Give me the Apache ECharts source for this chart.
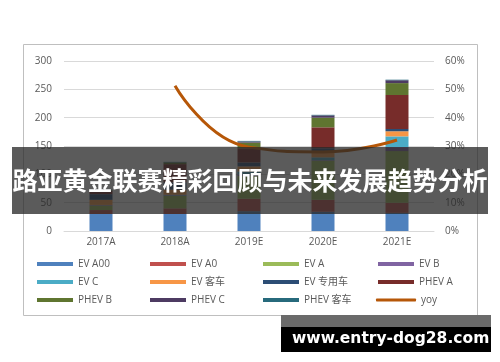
<!DOCTYPE html>
<html><head><meta charset="utf-8">
<script src="https://cdn.jsdelivr.net/npm/echarts@6/dist/echarts.min.js"></script>
<style>html,body{margin:0;padding:0;background:#fff}#c{width:500px;height:362px}</style>
</head><body><div id="c"></div>
<script>
var categories = ['2017A','2018A','2019E','2020E','2021E'];
var evA00   = [30, 30, 35, 34, 32];
var evA0    = [7, 10, 22, 21, 18];
var evA     = [8, 22, 40, 69, 91];
var evB     = [1, 1, 3, 1, 7];
var evC     = [0, 1, 5, 5, 19];
var evBus   = [9, 9, 9, 9, 9];
var evSpec  = [10, 13, 7, 7, 4];
var phevA   = [6, 32, 25, 37, 60];
var phevB   = [1, 3, 10, 17, 21];
var phevC   = [0, 0, 2, 4, 5];
var phevBus = [1, 1, 1, 1, 1];
var yoy     = [null, 0.513, 0.296, 0.279, 0.321];
var leftTicks = [0, 50, 100, 150, 200, 250, 300];
var rightTicks = ['0%','10%','20%','30%','40%','50%','60%'];

var names = ['EV A00','EV A0','EV A','EV B','EV C','EV 客车','EV 专用车','PHEV A','PHEV B','PHEV C','PHEV 客车','yoy'];
var colors = ['#4F81BD','#C0504D','#9BBB59','#8064A2','#4BACC6','#F79646','#2C4D75','#772C2A','#5F7530','#4D3B62','#276A7C','#B65708'];
var barData = [evA00, evA0, evA, evB, evC, evBus, evSpec, phevA, phevB, phevC, phevBus];

var series = barData.map(function(d, i){
  return {name: names[i], type: 'bar', stack: 'total', barWidth: 23, data: d,
    itemStyle: {color: colors[i]}, z: 2};
});
series.push({name: 'yoy', type: 'line', yAxisIndex: 1, data: yoy, smooth: true,
  symbol: 'none', lineStyle: {color: colors[11], width: 3}, itemStyle: {color: colors[11]}, z: 5});

var colX = [37, 150, 263, 378];
var rowY = [266, 284, 302];
var legends = names.map(function(n, i){
  var r = Math.floor(i/4), c = i%4;
  return {data: [n], left: colX[c] - (n === 'yoy' ? 2 : 0), top: rowY[r] - 7, padding: 0,
    itemWidth: n === 'yoy' ? 40 : 36, itemHeight: n === 'yoy' ? 3 : 4, icon: n === 'yoy' ? 'roundRect' : 'rect',
    selectedMode: false, textStyle: {fontSize: 10, color: '#595959', fontFamily: 'Open Sans, Noto Sans CJK SC'}};
});

var chart = echarts.init(document.getElementById('c'), null, {renderer: 'canvas'});
chart.setOption({
  animation: false,
  backgroundColor: '#fff',
  grid: {left: 64, right: 66, top: 61, bottom: 131},
  legend: legends,
  xAxis: {type: 'category', data: categories,
    axisLine: {show: true, lineStyle: {color: '#d9d9d9'}}, axisTick: {show: false},
    axisLabel: {fontSize: 10, color: '#595959', margin: 6, fontFamily: 'Open Sans'}},
  yAxis: [
    {type: 'value', min: leftTicks[0], max: leftTicks[leftTicks.length-1], interval: 50,
     axisLine: {show: false}, axisTick: {show: false},
     splitLine: {lineStyle: {color: '#d9d9d9'}},
     axisLabel: {fontSize: 10, color: '#595959', margin: 12, fontFamily: 'Open Sans'}},
    {type: 'value', min: 0, max: 0.6, interval: 0.1,
     axisLine: {show: false}, axisTick: {show: false}, splitLine: {show: false},
     axisLabel: {fontSize: 10, color: '#595959', margin: 11, fontFamily: 'Open Sans',
       formatter: function(v){ return rightTicks[Math.round(v*10)]; }}}
  ],
  series: series,
  graphic: [
    {type: 'rect', z: -10, silent: true, shape: {x: 23.5, y: 44.5, width: 454, height: 271},
     style: {fill: 'none', stroke: '#bfbfbf', lineWidth: 1}},
    {type: 'rect', z: 100, shape: {x: 12, y: 147, width: 476, height: 67},
     style: {fill: 'rgba(40,40,40,0.76)'}},
    {type: 'text', z: 101, left: 'center', top: 168,
     style: {text: '路亚黄金联赛精彩回顾与未来发展趋势分析', fill: '#fff',
       font: 'bold 25px "Noto Sans CJK SC"'}},
    {type: 'rect', z: 100, shape: {x: 281, y: 315, width: 210, height: 12},
     style: {fill: '#6a6a6a'}},
    {type: 'rect', z: 100, shape: {x: 281, y: 327, width: 210, height: 25},
     style: {fill: '#000'}},
    {type: 'text', z: 101, left: 292, top: 331,
     style: {text: 'www.entry-dog28.com', fill: '#fff', font: 'bold 15.5px "DejaVu Sans"'}}
  ]
});
</script></body></html>
